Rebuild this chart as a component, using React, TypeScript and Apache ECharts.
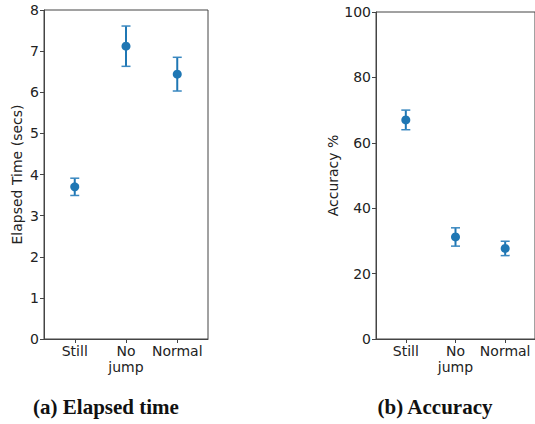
import React, { useEffect, useRef } from "react";
import * as echarts from "echarts";

const categories = ["Still", "No\njump", "Normal"];
const elapsedMean = [3.7, 7.12, 6.44];
const elapsedErr = [0.21, 0.49, 0.41];
const accuracyMean = [67.0, 31.2, 27.7];
const accuracyErr = [3.0, 2.8, 2.2];
const elapsedTicks = [0, 1, 2, 3, 4, 5, 6, 7, 8];
const accuracyTicks = [0, 20, 40, 60, 80, 100];

const BLUE = "#1f77b4";
const AXIS = "#444";
const TXT = "#222";
const FONT = "DejaVu Sans";

function errRender(params: any, api: any) {
  const x = api.value(0);
  const lo = api.value(1);
  const hi = api.value(2);
  const pLo = api.coord([x, lo]);
  const pHi = api.coord([x, hi]);
  const cw = 4.5;
  const style = { stroke: BLUE, lineWidth: 2 };
  const capStyle = { stroke: "#3a88c0", lineWidth: 1.5 };
  return {
    type: "group",
    children: [
      { type: "line", shape: { x1: pLo[0], y1: pLo[1], x2: pHi[0], y2: pHi[1] }, style },
      { type: "line", shape: { x1: pLo[0] - cw, y1: pLo[1], x2: pLo[0] + cw, y2: pLo[1] }, style: capStyle },
      { type: "line", shape: { x1: pHi[0] - cw, y1: pHi[1], x2: pHi[0] + cw, y2: pHi[1] }, style: capStyle },
    ],
  };
}

export default function App() {
  const ref = useRef<HTMLDivElement>(null);
  useEffect(() => {
    if (!ref.current) return;
    const chart = echarts.init(ref.current, null, { renderer: "svg" });
    const catIdx = categories.map((_, i) => i);
    const xAxisBase = (gridIndex: number) => ({
      type: "value",
      gridIndex,
      min: -0.6,
      max: 2.6,
      splitLine: { show: false },
      axisLine: { show: true, onZero: false, lineStyle: { color: AXIS, width: 1 } },
      axisTick: { show: true, customValues: catIdx, length: 4, lineStyle: { color: AXIS } },
      axisLabel: {
        customValues: catIdx,
        formatter: (v: number) => categories[Math.round(v)] ?? "",
        color: TXT,
        fontFamily: FONT,
        fontSize: 14,
        lineHeight: 16,
        margin: 4,
      },
    });
    const yAxisBase = (gridIndex: number, max: number, interval: number, ticks: number[], name: string, nameGap: number) => ({
      type: "value",
      gridIndex,
      min: 0,
      max,
      interval,
      name,
      nameLocation: "middle",
      nameRotate: 90,
      nameGap,
      nameTextStyle: { color: TXT, fontFamily: FONT, fontSize: 14 },
      splitLine: { show: false },
      axisLine: { show: true, onZero: false, lineStyle: { color: AXIS, width: 1 } },
      axisTick: { show: true, length: 4, lineStyle: { color: AXIS } },
      axisLabel: {
        customValues: ticks,
        color: TXT,
        fontFamily: FONT,
        fontSize: 14,
        margin: 5,
      },
    });
    chart.setOption({
      animation: false,
      grid: [
        { left: 44, top: 10, width: 164, height: 329, show: true, borderColor: AXIS, borderWidth: 1, backgroundColor: "transparent" },
        { left: 376, top: 12, width: 170, height: 327, show: true, borderColor: AXIS, borderWidth: 1, backgroundColor: "transparent" },
      ],
      xAxis: [xAxisBase(0), xAxisBase(1)],
      yAxis: [
        yAxisBase(0, 8, 1, elapsedTicks, "Elapsed Time (secs)", 20),
        yAxisBase(1, 100, 20, accuracyTicks, "Accuracy %", 35),
      ],
      series: [
        {
          type: "custom",
          xAxisIndex: 0,
          yAxisIndex: 0,
          renderItem: errRender,
          data: elapsedMean.map((m, i) => [i, m - elapsedErr[i], m + elapsedErr[i]]),
          z: 2,
        },
        {
          type: "scatter",
          xAxisIndex: 0,
          yAxisIndex: 0,
          symbolSize: 9,
          itemStyle: { color: BLUE, opacity: 1 },
          data: elapsedMean.map((m, i) => [i, m]),
          z: 3,
        },
        {
          type: "custom",
          xAxisIndex: 1,
          yAxisIndex: 1,
          renderItem: errRender,
          data: accuracyMean.map((m, i) => [i, m - accuracyErr[i], m + accuracyErr[i]]),
          z: 2,
        },
        {
          type: "scatter",
          xAxisIndex: 1,
          yAxisIndex: 1,
          symbolSize: 9,
          itemStyle: { color: BLUE, opacity: 1 },
          data: accuracyMean.map((m, i) => [i, m]),
          z: 3,
        },
      ],
      graphic: [
        {
          type: "text",
          x: 106,
          y: 407,
          style: {
            text: "(a) Elapsed time",
            fill: "#111",
            font: "bold 21px 'Liberation Serif', 'DejaVu Serif', serif",
            textAlign: "center",
            textVerticalAlign: "middle",
          },
        },
        {
          type: "text",
          x: 435,
          y: 407,
          style: {
            text: "(b) Accuracy",
            fill: "#111",
            font: "bold 21px 'Liberation Serif', 'DejaVu Serif', serif",
            textAlign: "center",
            textVerticalAlign: "middle",
          },
        },
      ],
    });
    return () => chart.dispose();
  }, []);
  return (
    <div
      ref={ref}
      style={{ position: "fixed", left: 0, top: 0, width: 535, height: 424, background: "#fff", overflow: "hidden" }}
    />
  );
}
